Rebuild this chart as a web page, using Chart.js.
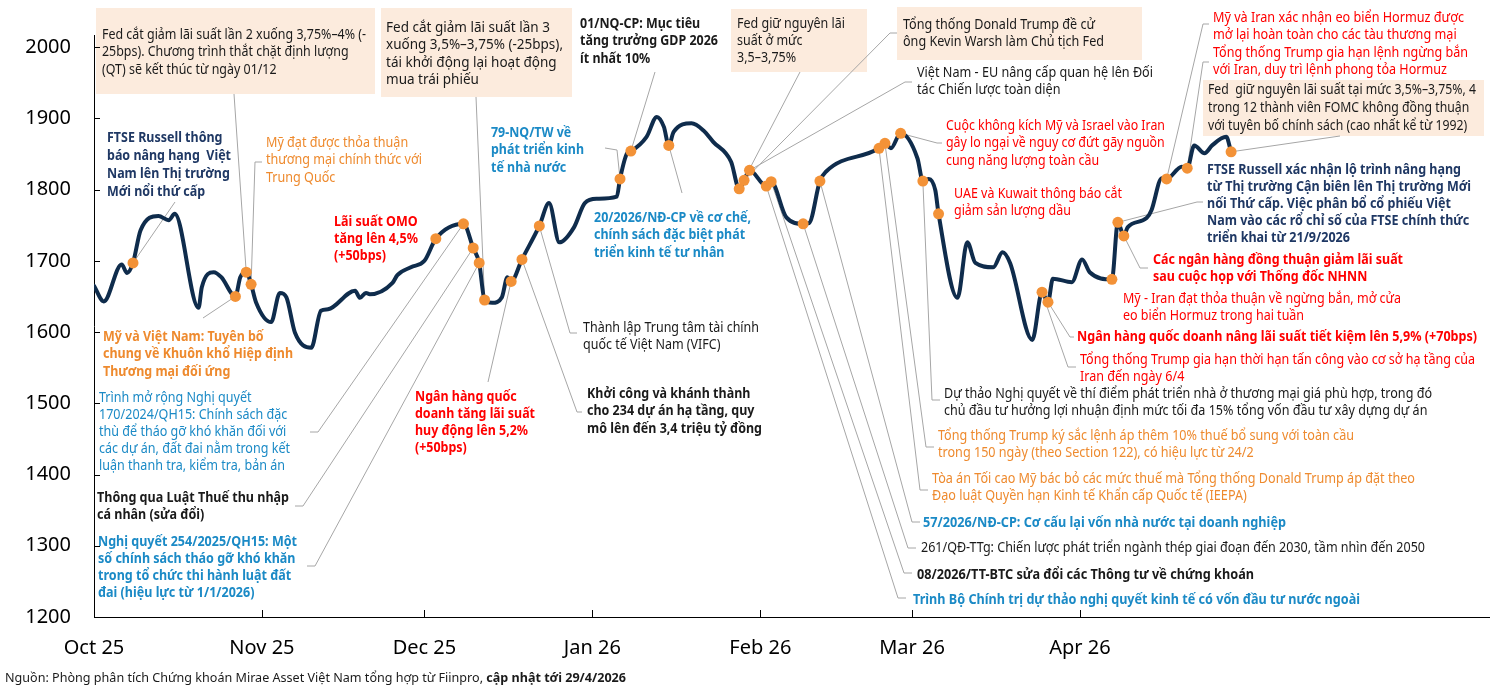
<!DOCTYPE html>
<html>
<head>
<meta charset="utf-8">
<script src="https://cdn.jsdelivr.net/npm/chart.js@4.4.1/dist/chart.umd.min.js"></script>
<style>
  html, body { margin: 0; padding: 0; background: #fff; }
  #wrap { width: 1495px; height: 687px; position: relative; }
</style>
</head>
<body>
<div id="wrap"><canvas id="vnChart"></canvas></div>
<script>
// VN-Index, days counted from 01/10/2025
var days = [0, 1.8, 5.1, 6.1, 7.2, 8.6, 11.9, 13.8, 14.9, 19.3, 19.9, 22.1, 23.5, 26.1, 27.0, 28.1, 29.0, 29.9,
  32.7, 34.3, 35.5, 37.1, 40.1, 41.9, 43.2, 48.2, 49.1, 50.2, 50.9, 55.1, 56.0, 58.5, 61.0, 63.1, 68.2, 70.0,
  71.1, 72.1, 73.5, 75.3, 76.3, 77.0, 79.0, 82.2, 84.0, 85.9, 88.6, 90.6, 92.8, 96.5, 97.1, 98.4, 99.1, 102.0,
  103.9, 105.2, 106.1, 107.0, 110.3, 112.5, 114.3, 117.6, 119.1, 120.0, 121.0, 124.1, 125.0, 127.8, 130.9, 132.0,
  134.0, 135.1, 144.9, 146.0, 147.1, 148.9, 152.0, 153.0, 154.1, 155.3, 155.9, 159.4, 161.2, 162.7, 166.0, 167.7,
  169.1, 173.2, 175.0, 176.1, 177.0, 180.5, 182.4, 183.8, 187.9, 189.0, 190.1, 190.8, 194.3, 195.2, 197.1, 198.0,
  200.8, 201.8, 203.1, 205.0, 206.4, 209.0, 209.9];
var closes = [1665, 1643, 1695, 1683, 1697, 1743, 1763, 1757, 1766, 1634, 1663, 1684, 1677, 1650, 1677, 1684, 1667, 1642,
  1614, 1655, 1649, 1599, 1578, 1630, 1632, 1658, 1648, 1655, 1653, 1669, 1680, 1691, 1700, 1731, 1752, 1718,
  1697, 1645, 1641, 1649, 1677, 1671, 1702, 1749, 1781, 1726, 1747, 1781, 1787, 1790, 1815, 1851, 1854, 1874,
  1902, 1888, 1862, 1881, 1893, 1883, 1867, 1839, 1801, 1813, 1827, 1805, 1811, 1761, 1752, 1753,
  1812, 1825, 1858, 1865, 1858, 1879, 1844, 1812, 1815, 1799, 1766, 1648, 1726, 1697, 1691, 1712,
  1697, 1589, 1656, 1642, 1675, 1670, 1702, 1684, 1674, 1754, 1735, 1747, 1760, 1771, 1816, 1815,
  1832, 1830, 1862, 1851, 1862, 1874, 1853];

// event markers on the line
var eventDays = [7.2, 26.1, 28.1, 29.0, 63.1, 68.2, 70.0, 71.1, 72.1, 77.0, 79.0, 82.2, 97.1, 99.1, 106.1,
  119.1, 120.0, 121.0, 124.1, 125.0, 130.9, 134.0, 144.9, 146.0, 148.9, 153.0, 155.9, 175.0, 176.1,
  187.9, 189.0, 190.1, 198.0, 201.8, 209.9];
var eventCloses = [1697, 1650, 1684, 1667, 1731, 1752, 1718, 1697, 1645, 1671, 1702, 1749, 1815, 1854, 1862,
  1801, 1813, 1827, 1805, 1811, 1752, 1812, 1858, 1865, 1879, 1812, 1766, 1656, 1642,
  1674, 1754, 1735, 1815, 1830, 1853];

var monthTicks = [0, 31, 61, 92, 123, 151, 182];
var monthLabels = ['Oct 25', 'Nov 25', 'Dec 25', 'Jan 26', 'Feb 26', 'Mar 26', 'Apr 26'];
var yTicks = [1200, 1300, 1400, 1500, 1600, 1700, 1800, 1900, 2000];

var NAVY = '#0F2C4C', ORANGE_DOT = '#F39237', BOX = '#FCEBDD', LEADER = '#A6A6A6';
var C_DARK = '#1A1A1A', C_NAVY = '#1F3864', C_RED = '#FF0000', C_ORANGE = '#EE8A2E', C_BLUE = '#1B8AC6';

// notes: ev = marker index, x/y = first text line, w = width of widest line, path = leader after the marker
var notes = [
  { ev: 0, lines: ['FTSE Russell thông', 'báo nâng hạng  Việt', 'Nam lên Thị trường', 'Mới nổi thứ cấp'], color: C_NAVY, bold: true, x: 107, y: 138, lh: 18, w: 124, path: [[175, 202]] },
  { ev: 1, lines: ['Mỹ và Việt Nam: Tuyên bố', 'chung về Khuôn khổ Hiệp định', 'Thương mại đối ứng'], color: C_ORANGE, bold: true, x: 103, y: 337, lh: 17.5, w: 190, path: [[203, 318]] },
  { ev: 2, lines: ['Fed cắt giảm lãi suất lần 2 xuống 3,75%–4% (-', '25bps). Chương trình thắt chặt định lượng', '(QT) sẽ kết thúc từ ngày 01/12'], color: C_DARK, x: 102, y: 35, lh: 17.5, w: 264, box: [96, 8, 279, 86], path: [[234, 94]] },
  { ev: 3, lines: ['Mỹ đạt được thỏa thuận', 'thương mại chính thức với', 'Trung Quốc'], color: C_ORANGE, x: 266, y: 143, lh: 17.5, w: 156, path: [[255, 162], [262, 162]] },
  { ev: 4, lines: ['Lãi suất OMO', 'tăng lên 4,5%', '(+50bps)'], color: C_RED, bold: true, x: 334, y: 222, lh: 17, w: 84 },
  { ev: 5, lines: ['Trình mở rộng Nghị quyết', '170/2024/QH15: Chính sách đặc', 'thù để tháo gỡ khó khăn đối với', 'các dự án, đất đai nằm trong kết', 'luận thanh tra, kiểm tra, bản án'], color: C_BLUE, x: 99, y: 398, lh: 17, w: 191, path: [[318, 432], [310, 432]] },
  { ev: 6, lines: ['Thông qua Luật Thuế thu nhập', 'cá nhân (sửa đổi)'], color: C_DARK, bold: true, x: 97, y: 498, lh: 17, w: 192, path: [[303, 506], [295, 506]] },
  { ev: 7, lines: ['Nghị quyết 254/2025/QH15: Một', 'số chính sách tháo gỡ khó khăn', 'trong tổ chức thi hành luật đất', 'đai (hiệu lực từ 1/1/2026)'], color: C_BLUE, bold: true, x: 98, y: 542, lh: 17, w: 199, path: [[315, 566], [307, 566]] },
  { ev: 8, lines: ['Fed cắt giảm lãi suất lần 3', 'xuống 3,5%–3,75% (-25bps),', 'tái khởi động lại hoạt động', 'mua trái phiếu'], color: C_DARK, x: 386, y: 28, lh: 17.5, w: 177, box: [381, 8, 191, 89], path: [[476, 97]] },
  { ev: 9, lines: ['Ngân hàng quốc', 'doanh tăng lãi suất', 'huy động lên 5,2%', '(+50bps)'], color: C_RED, bold: true, x: 415, y: 397, lh: 17, w: 120, path: [[488, 382]] },
  { ev: 10, lines: ['Khởi công và khánh thành', 'cho 234 dự án hạ tầng, quy', 'mô lên đến 3,4 triệu tỷ đồng'], color: C_DARK, bold: true, x: 587, y: 394, lh: 17.5, w: 175, path: [[577, 412], [582, 412]] },
  { ev: 11, lines: ['Thành lập Trung tâm tài chính', 'quốc tế Việt Nam (VIFC)'], color: C_DARK, x: 583, y: 328, lh: 17, w: 176, path: [[570, 333], [577, 333]] },
  { ev: 12, lines: ['79-NQ/TW về', 'phát triển kinh', 'tế nhà nước'], color: C_BLUE, bold: true, x: 491, y: 133, lh: 17.5, w: 93, path: [[617, 150], [605, 148]] },
  { ev: 13, lines: ['01/NQ-CP: Mục tiêu', 'tăng trưởng GDP 2026', 'ít nhất 10%'], color: C_DARK, bold: true, x: 580, y: 24, lh: 17.5, w: 138, path: [[655, 72]] },
  { ev: 14, lines: ['20/2026/NĐ-CP về cơ chế,', 'chính sách đặc biệt phát', 'triển kinh tế tư nhân'], color: C_BLUE, bold: true, x: 594, y: 218, lh: 17.5, w: 157, path: [[682, 193]] },
  { ev: 15, lines: ['Fed giữ nguyên lãi', 'suất ở mức', '3,5–3,75%'], color: C_DARK, x: 737, y: 24, lh: 17, w: 108, box: [731, 9, 136, 63], path: [[800, 72]] },
  { ev: 16, lines: ['Tổng thống Donald Trump đề cử', 'ông Kevin Warsh làm Chủ tịch Fed'], color: C_DARK, x: 903, y: 25, lh: 17.5, w: 201, box: [897, 7, 245, 53], path: [[890, 33], [897, 33]] },
  { ev: 17, lines: ['Việt Nam - EU nâng cấp quan hệ lên Đối', 'tác Chiến lược toàn diện'], color: C_DARK, x: 917, y: 73, lh: 17.5, w: 236, path: [[905, 82], [912, 82]] },
  { ev: 18, lines: ['Trình Bộ Chính trị dự thảo nghị quyết kinh tế có vốn đầu tư nước ngoài'], color: C_BLUE, bold: true, x: 913, y: 600, w: 447, path: [[898, 598], [906, 598]] },
  { ev: 19, lines: ['08/2026/TT-BTC sửa đổi các Thông tư về chứng khoán'], color: C_DARK, bold: true, x: 917, y: 575, w: 337, path: [[904, 573], [912, 573]] },
  { ev: 20, lines: ['261/QĐ-TTg: Chiến lược phát triển ngành thép giai đoạn đến 2030, tầm nhìn đến 2050'], color: C_DARK, x: 921, y: 548, w: 504, path: [[908, 548], [916, 548]] },
  { ev: 21, lines: ['57/2026/NĐ-CP: Cơ cấu lại vốn nhà nước tại doanh nghiệp'], color: C_BLUE, bold: true, x: 923, y: 523, w: 363, path: [[912, 522], [920, 522]] },
  { ev: 22, lines: ['Tòa án Tối cao Mỹ bác bỏ các mức thuế mà Tổng thống Donald Trump áp đặt theo', 'Đạo luật Quyền hạn Kinh tế Khẩn cấp Quốc tế (IEEPA)'], color: C_ORANGE, x: 932, y: 479, lh: 17.5, w: 483, path: [[920, 490], [928, 490]] },
  { ev: 23, lines: ['Tổng thống Trump ký sắc lệnh áp thêm 10% thuế bổ sung với toàn cầu', 'trong 150 ngày (theo Section 122), có hiệu lực từ 24/2'], color: C_ORANGE, x: 938, y: 436, lh: 17.5, w: 416, path: [[926, 447], [934, 447]] },
  { ev: 24, lines: ['Cuộc không kích Mỹ và Israel vào Iran', 'gây lo ngại về nguy cơ đứt gãy nguồn', 'cung năng lượng toàn cầu'], color: C_RED, x: 946, y: 126, lh: 17.5, w: 219, path: [[937, 143], [942, 143]] },
  { ev: 25, lines: ['Dự thảo Nghị quyết về thí điểm phát triển nhà ở thương mại giá phù hợp, trong đó', 'chủ đầu tư hưởng lợi nhuận định mức tối đa 15% tổng vốn đầu tư xây dựng dự án'], color: C_DARK, x: 944, y: 394, lh: 17.5, w: 488, path: [[932, 400], [940, 400]] },
  { ev: 26, lines: ['UAE và Kuwait thông báo cắt', 'giảm sản lượng dầu'], color: C_RED, x: 954, y: 194, lh: 17.5, w: 168 },
  { ev: 27, lines: ['Tổng thống Trump gia hạn thời hạn tấn công vào cơ sở hạ tầng của', 'Iran đến ngày 6/4'], color: C_RED, x: 1080, y: 360, lh: 17.5, w: 395, path: [[1068, 367], [1076, 367]] },
  { ev: 28, lines: ['Ngân hàng quốc doanh nâng lãi suất tiết kiệm lên 5,9% (+70bps)'], color: C_RED, bold: true, x: 1077, y: 337, w: 400, path: [[1070, 337], [1074, 337]] },
  { ev: 29, lines: ['Mỹ - Iran đạt thỏa thuận về ngừng bắn, mở cửa', 'eo biển Hormuz trong hai tuần'], color: C_RED, x: 1123, y: 299, lh: 17, w: 278 },
  { ev: 30, lines: ['FTSE Russell xác nhận lộ trình nâng hạng', 'từ Thị trường Cận biên lên Thị trường Mới', 'nối Thứ cấp. Việc phân bổ cổ phiếu Việt', 'Nam vào các rổ chỉ số của FTSE chính thức', 'triển khai từ 21/9/2026'], color: C_NAVY, bold: true, x: 1207, y: 170, lh: 17, w: 264, path: [[1197, 202], [1203, 202]] },
  { ev: 31, lines: ['Các ngân hàng đồng thuận giảm lãi suất', 'sau cuộc họp với Thống đốc NHNN'], color: C_RED, bold: true, x: 1153, y: 260, lh: 17.5, w: 250, path: [[1140, 268], [1148, 268]] },
  { ev: 32, lines: ['Mỹ và Iran xác nhận eo biển Hormuz được', 'mở lại hoàn toàn cho các tàu thương mại'], color: C_RED, x: 1213, y: 18, lh: 17.5, w: 251, path: [[1203, 24], [1209, 24]] },
  { ev: 33, lines: ['Tổng thống Trump gia hạn lệnh ngừng bắn', 'với Iran, duy trì lệnh phong tỏa Hormuz'], color: C_RED, x: 1213, y: 53, lh: 17.5, w: 255, path: [[1203, 62], [1209, 62]] },
  { ev: 34, lines: ['Fed  giữ nguyên lãi suất tại mức 3,5%–3,75%, 4', 'trong 12 thành viên FOMC không đồng thuận', 'với tuyên bố chính sách (cao nhất kể từ 1992)'], color: C_DARK, x: 1208, y: 90, lh: 18, w: 268, box: [1203, 80, 281, 56], path: [[1340, 136]] }
];

var FONT = '"Noto Sans", "Open Sans", sans-serif';

function drawNote(ctx, n) {
  ctx.font = (n.bold ? '700 ' : '400 ') + '13.5px ' + FONT;
  var maxW = 0;
  n.lines.forEach(function (l) { maxW = Math.max(maxW, ctx.measureText(l).width); });
  var sx = n.w / maxW;
  ctx.fillStyle = n.color;
  ctx.textBaseline = 'middle';
  ctx.textAlign = 'left';
  n.lines.forEach(function (l, i) {
    ctx.save();
    ctx.translate(n.x, n.y + i * (n.lh || 17.5));
    ctx.scale(sx, 1);
    ctx.fillText(l, 0, 0);
    ctx.restore();
  });
}

var eventsPlugin = {
  id: 'events',
  beforeDatasetsDraw: function (chart) {
    var ctx = chart.ctx, xs = chart.scales.x, ys = chart.scales.y;
    ctx.save();
    notes.forEach(function (n) {
      if (n.box) { ctx.fillStyle = BOX; ctx.fillRect(n.box[0], n.box[1], n.box[2], n.box[3]); }
    });
    ctx.strokeStyle = LEADER;
    ctx.lineWidth = 1;
    notes.forEach(function (n) {
      if (!n.path) return;
      ctx.beginPath();
      ctx.moveTo(xs.getPixelForValue(eventDays[n.ev]), ys.getPixelForValue(eventCloses[n.ev]));
      n.path.forEach(function (p) { ctx.lineTo(p[0], p[1]); });
      ctx.stroke();
    });
    ctx.restore();
  },
  afterDatasetsDraw: function (chart) {
    var ctx = chart.ctx;
    ctx.save();
    notes.forEach(function (n) { drawNote(ctx, n); });
    ctx.restore();
  },
  afterDraw: function (chart) {
    var ctx = chart.ctx, xs = chart.scales.x, ys = chart.scales.y, a = chart.chartArea;
    ctx.save();
    // inward tick marks
    ctx.strokeStyle = '#000';
    ctx.lineWidth = 1;
    ctx.beginPath();
    yTicks.forEach(function (v) {
      var py = Math.round(ys.getPixelForValue(v)) + 0.5;
      ctx.moveTo(a.left, py); ctx.lineTo(a.left + 6, py);
    });
    monthTicks.forEach(function (d) {
      var px = Math.round(xs.getPixelForValue(d)) + 0.5;
      ctx.moveTo(px, a.bottom); ctx.lineTo(px, a.bottom - 7);
    });
    ctx.stroke();
    // source line
    var src = 'Nguồn: Phòng phân tích Chứng khoán Mirae Asset Việt Nam tổng hợp từ Fiinpro, ';
    var upd = 'cập nhật tới 29/4/2026';
    ctx.font = '400 13px ' + FONT;
    var w1 = ctx.measureText(src).width;
    ctx.font = '700 13px ' + FONT;
    var w2 = ctx.measureText(upd).width;
    var sx = 621 / (w1 + w2);
    ctx.translate(5, 678);
    ctx.scale(sx, 1);
    ctx.fillStyle = C_DARK;
    ctx.textBaseline = 'middle';
    ctx.font = '400 13px ' + FONT;
    ctx.fillText(src, 0, 0);
    ctx.font = '700 13px ' + FONT;
    ctx.fillText(upd, w1, 0);
    ctx.restore();
  }
};

var ctx = document.getElementById('vnChart').getContext('2d');
new Chart(ctx, {
  type: 'line',
  data: {
    datasets: [{
      label: 'Sự kiện',
      data: eventDays.map(function (d, i) { return { x: d, y: eventCloses[i] }; }),
      showLine: false,
      pointRadius: 5.5,
      pointHoverRadius: 5.5,
      pointBackgroundColor: ORANGE_DOT,
      pointBorderWidth: 0,
      order: 0
    }, {
      label: 'VN-Index',
      data: days.map(function (d, i) { return { x: d, y: closes[i] }; }),
      borderColor: NAVY,
      borderWidth: 4,
      pointRadius: 0,
      cubicInterpolationMode: 'monotone',
      borderCapStyle: 'round',
      borderJoinStyle: 'round',
      order: 1
    }]
  },
  options: {
    responsive: true,
    maintainAspectRatio: false,
    animation: false,
    layout: { padding: 0 },
    plugins: { legend: { display: false }, tooltip: { enabled: false } },
    scales: {
      x: {
        type: 'linear',
        min: 0,
        max: 257.6,
        grid: { display: false, drawTicks: false },
        border: { display: true, color: '#000', width: 1 },
        afterBuildTicks: function (axis) { axis.ticks = monthTicks.map(function (v) { return { value: v }; }); },
        afterFit: function (scale) { scale.height = 70; },
        ticks: {
          autoSkip: false, maxRotation: 0, padding: 19, color: '#000',
          font: { family: FONT, size: 20 },
          callback: function (v, i) { return monthLabels[i]; }
        }
      },
      y: {
        min: 1200,
        max: 2017,
        grid: { display: false, drawTicks: false },
        border: { display: true, color: '#000', width: 1 },
        afterBuildTicks: function (axis) { axis.ticks = yTicks.map(function (v) { return { value: v }; }); },
        afterFit: function (scale) { scale.width = 94; },
        ticks: {
          padding: 23, color: '#000',
          font: { family: FONT, size: 20 },
          callback: function (v) { return String(v); }
        }
      }
    }
  },
  plugins: [eventsPlugin]
});
</script>
</body>
</html>
